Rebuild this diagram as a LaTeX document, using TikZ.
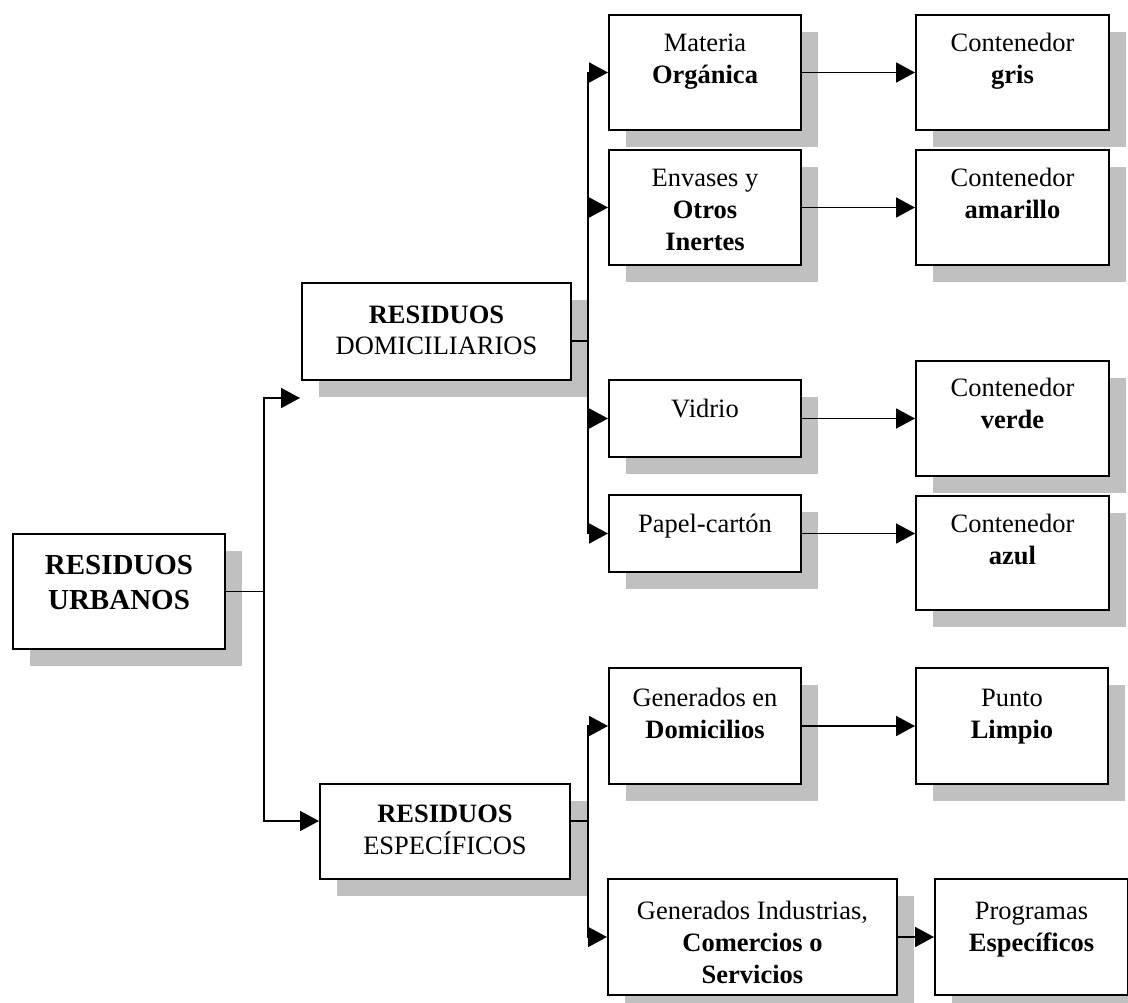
\documentclass[tikz,border=0pt]{standalone}
\usepackage{fontspec}
\setmainfont{Liberation Serif}
\usetikzlibrary{arrows.meta,shadows}
\definecolor{sombra}{HTML}{C0C0C0}

\begin{document}
\begin{tikzpicture}[x=1pt,y=-1pt]
\tikzstyle{every node}+=[inner sep=0pt]
\tikzstyle{caja}=[draw,fill=white,line width=2pt,anchor=north west,align=center,
  font=\fontsize{26.5}{32}\selectfont,
  drop shadow={shadow xshift=17pt,shadow yshift=-17pt,fill=sombra,opacity=1}]
\tikzstyle{flecha}=[line width=1.8pt,-{Triangle[length=19pt,width=20pt]}]
\tikzstyle{linea}=[line width=1.8pt]
\useasboundingbox (0,0) rectangle (1128,1003);

\node (ru) [caja,minimum width=212,text height=75,text depth=40,font=\fontsize{29}{35}\selectfont] at (12,533) {\textbf{RESIDUOS}\\\textbf{URBANOS}};
\node (dom) [caja,minimum width=269,text height=72,text depth=25] at (301,282) {\textbf{RESIDUOS}\\DOMICILIARIOS};
\node (esp) [caja,minimum width=250,text height=70,text depth=25] at (319,783) {\textbf{RESIDUOS}\\ESPECÍFICOS};

\node (mo) [caja,minimum width=192,text height=69,text depth=46] at (608,14) {Materia\\\textbf{Orgánica}};
\node (env) [caja,minimum width=192,text height=101,text depth=14] at (608,149) {Envases y\\\textbf{Otros}\\\textbf{Inertes}};
\node (vid) [caja,minimum width=192,text height=37,text depth=40] at (608,379) {Vidrio};
\node (pap) [caja,minimum width=192,text height=37,text depth=40] at (608,494) {Papel-cartón};
\node (gdom) [caja,minimum width=192,text height=70,text depth=46] at (608,667) {Generados en\\\textbf{Domicilios}};
\node (gind) [caja,minimum width=289,text height=104,text depth=12] at (607,878) {Generados Industrias,\\\textbf{Comercios o}\\\textbf{Servicios}};

\node (gris) [caja,minimum width=193,text height=69,text depth=46] at (915,14) {Contenedor\\\textbf{gris}};
\node (amar) [caja,minimum width=193,text height=69,text depth=46] at (915,149) {Contenedor\\\textbf{amarillo}};
\node (verde) [caja,minimum width=193,text height=67,text depth=48] at (915,360) {Contenedor\\\textbf{verde}};
\node (azul) [caja,minimum width=193,text height=68,text depth=46] at (915,495) {Contenedor\\\textbf{azul}};
\node (pl) [caja,minimum width=192,text height=70,text depth=46] at (915,667) {Punto\\\textbf{Limpio}};
\node (prog) [caja,minimum width=193,text height=72,text depth=44] at (934,878) {Programas\\\textbf{Específicos}};

\coordinate (t1) at ([xshift=38pt]ru.east);
\coordinate (pdom) at (300,398);
\coordinate (t2) at (588,341);
\coordinate (t3) at (588,821);

\draw [linea] (ru.east) -- (t1);
\draw [flecha] (t1) |- (pdom);
\draw [flecha] (t1) |- (esp.west |- t3);

\draw [linea] (dom.east |- t2) -- (t2);
\draw [flecha] (t2) |- (mo.west);
\draw [flecha] (t2) |- (env.west);
\draw [flecha] (t2) |- (vid.west);
\draw [flecha] (t2) |- (pap.west);

\draw [linea] (esp.east |- t3) -- (t3);
\draw [flecha] (t3) |- (gdom.west);
\draw [flecha] (t3) |- (gind.west);

\draw [flecha] (mo.east) -- (gris.west);
\draw [flecha] (env.east) -- (amar.west);
\draw [flecha] (vid.east) -- (verde.west);
\draw [flecha] (pap.east) -- (pap.east -| azul.west);
\draw [flecha] (gdom.east) -- (pl.west);
\draw [flecha] (gind.east) -- (prog.west);
\end{tikzpicture}
\end{document}
